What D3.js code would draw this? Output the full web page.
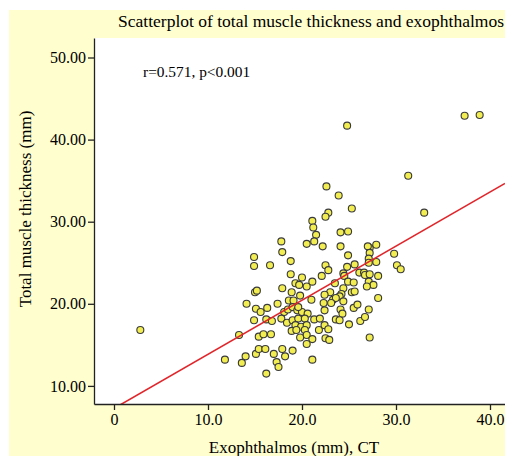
<!DOCTYPE html>
<html>
<head>
<meta charset="utf-8">
<script src="https://cdn.jsdelivr.net/npm/d3@7"></script>
<style>
  html, body { margin: 0; padding: 0; background: #fff; }
  svg { display: block; }
  text { font-family: "Liberation Serif", "Times New Roman", serif; fill: #000; }
</style>
</head>
<body>
<svg id="chart"></svg>
<script>
// exophthalmos (mm) and total muscle thickness (mm)
let exophthalmos = [
    17.8, 20.5, 31.3, 22.6, 23.9, 25.3, 22.8, 22.5, 21.1, 21.2, 21.5, 21.3, 22.2, 24.1, 24.9, 24.1,
    27.2, 27.9, 27.0, 24.8, 37.3, 38.9, 33.0, 2.8,
    14.9, 17.9, 14.9, 16.6, 18.8, 18.8, 20.0, 19.3, 19.7, 17.9, 18.9, 15.0, 15.2, 19.8, 20.5, 18.6,
    19.1, 14.1, 17.4, 15.1, 15.6, 16.3,
    18.1, 18.5, 19.0, 19.5, 20.0, 20.6, 19.6, 17.8, 18.4, 19.0, 19.6, 20.3, 19.3, 19.9, 20.5,
    14.9, 16.2, 16.8,
    13.3, 15.4, 15.9, 16.7, 18.9, 19.4, 20.3, 20.5, 19.8, 21.8, 22.5, 22.9, 21.1, 20.5, 27.2,
    11.8, 13.6, 14.0, 15.1, 15.4, 16.1, 17.0, 17.9, 18.2, 19.0, 17.3, 17.5, 21.1, 16.2,
    24.9, 27.2, 27.1, 29.8, 30.1, 30.5, 22.5, 22.8, 24.8, 25.6, 27.1, 27.9, 22.1, 24.4, 24.5, 26.1,
    26.6, 26.7, 27.2, 28.1, 21.1, 23.5, 24.9, 25.5, 27.1, 27.6, 26.9, 24.4, 24.2, 24.0, 25.3, 25.6,
    23.0, 22.4, 21.0, 23.3, 23.6, 24.4, 28.1, 22.3, 23.1, 22.4, 24.1, 24.3, 25.5, 25.9, 27.1, 21.3,
    21.9, 22.4, 23.6, 24.0, 25.0, 26.2, 26.7, 22.8
]
let muscleThickness = [
    27.6, 27.3, 35.6, 34.3, 33.2, 31.6, 31.1, 30.6, 30.1, 29.3, 28.4, 27.6, 27.0, 28.7, 28.8, 27.0,
    26.8, 27.2, 27.0, 41.7, 42.9, 43.0, 31.1, 16.8,
    25.7, 26.3, 24.6, 24.7, 25.2, 23.6, 23.2, 22.5, 22.3, 21.9, 21.4, 21.4, 21.6, 21.0, 22.1, 20.4,
    20.4, 20.0, 20.0, 19.4, 19.0, 19.5,
    19.0, 19.3, 19.6, 19.2, 19.0, 18.8, 19.6, 18.2, 17.7, 18.0, 18.2, 18.2, 17.4, 17.2, 17.4,
    18.0, 18.1, 17.9,
    16.2, 16.0, 16.3, 16.3, 16.7, 16.8, 16.8, 16.2, 15.9, 16.8, 15.8, 15.6, 15.7, 15.1, 15.9,
    13.2, 12.8, 13.6, 13.9, 14.5, 14.5, 13.9, 14.5, 13.6, 14.3, 12.9, 12.3, 13.2, 11.5,
    25.9, 26.2, 25.5, 26.1, 24.7, 24.2, 24.7, 24.1, 24.5, 24.8, 25.0, 25.1, 23.4, 23.7, 23.4, 23.8,
    23.8, 23.5, 23.6, 23.4, 22.7, 22.5, 22.7, 22.6, 22.7, 22.3, 22.1, 21.9, 21.2, 20.9, 21.4, 21.5,
    21.4, 21.1, 20.5, 20.5, 20.7, 20.3, 20.7, 20.1, 20.1, 19.2, 19.3, 18.8, 19.5, 19.9, 19.3, 18.1,
    18.2, 17.4, 18.1, 18.0, 17.5, 17.9, 18.4, 16.9
]

let xTicks = [0, 10, 20, 30, 40]
let xTickLabels = ['0', '10.0', '20.0', '30.0', '40.0']
let yTicks = [10, 20, 30, 40, 50]
let yTickLabels = ['10.00', '20.00', '30.00', '40.00', '50.00']

// fit line y = a + b * x
let fitIntercept = 7.26
let fitSlope = 0.659

let titleText = 'Scatterplot of total muscle thickness and exophthalmos'
let xTitle = 'Exophthalmos (mm), CT'
let yTitle = 'Total muscle thickness (mm)'
let statsText = 'r=0.571, p<0.001'

let W = 505, H = 456
let plot = { left: 94, top: 38, right: 505, bottom: 404 }

let svg = d3.select('#chart').attr('width', W).attr('height', H)

// cream chart frame
svg.append('rect')
    .attr('x', 9).attr('y', 10)
    .attr('width', W - 9).attr('height', H - 10)
    .attr('fill', '#FFFECE')

svg.append('rect')
    .attr('x', plot.left).attr('y', plot.top)
    .attr('width', plot.right - plot.left).attr('height', plot.bottom - plot.top)
    .attr('fill', '#fff')

let x = d3.scaleLinear()
    .domain([(plot.left - 114) / 9.4, (plot.right - 114) / 9.4])
    .range([plot.left, plot.right])
let y = d3.scaleLinear()
    .domain([50 - (plot.bottom - 57.5) / 8.21, 50 + (57.5 - plot.top) / 8.21])
    .range([plot.bottom, plot.top])

svg.append('clipPath').attr('id', 'plotClip')
    .append('rect')
    .attr('x', plot.left).attr('y', plot.top)
    .attr('width', plot.right - plot.left).attr('height', plot.bottom - plot.top)

let data = exophthalmos.map((v, i) => ({ x: v, y: muscleThickness[i] }))

let g = svg.append('g').attr('clip-path', 'url(#plotClip)')

g.selectAll('circle.pt')
    .data(data)
    .enter().append('circle')
    .attr('class', 'pt')
    .attr('cx', d => x(d.x))
    .attr('cy', d => y(d.y))
    .attr('r', 3.5)
    .attr('fill', '#F2EE52')
    .attr('stroke', '#3a3a3a')
    .attr('stroke-width', 1.1)

let xd = x.domain()
g.append('line')
    .attr('x1', x(xd[0])).attr('y1', y(fitIntercept + fitSlope * xd[0]))
    .attr('x2', x(xd[1])).attr('y2', y(fitIntercept + fitSlope * xd[1]))
    .attr('stroke', '#E0262B')
    .attr('stroke-width', 1.6)

// axes
let xAxis = d3.axisBottom(x)
    .tickValues(xTicks)
    .tickFormat((d, i) => xTickLabels[i])
    .tickSize(6)
    .tickSizeOuter(0)
let yAxis = d3.axisLeft(y)
    .tickValues(yTicks)
    .tickFormat((d, i) => yTickLabels[i])
    .tickSize(6)
    .tickSizeOuter(0)

let gx = svg.append('g')
    .attr('transform', 'translate(0,' + plot.bottom + ')')
    .call(xAxis)
let gy = svg.append('g')
    .attr('transform', 'translate(' + plot.left + ',0)')
    .call(yAxis)

;[gx, gy].forEach(ax => {
    ax.attr('font-family', null).attr('font-size', null)
    ax.select('.domain').attr('stroke', '#222').attr('stroke-width', 1.3)
    ax.selectAll('.tick line').attr('stroke', '#222').attr('stroke-width', 1.3)
    ax.selectAll('.tick text').style('font-size', '16px')
})
gx.selectAll('.tick text').attr('dy', '0.75em')
gy.selectAll('.tick text').attr('x', -8)

svg.append('text')
    .attr('x', 311).attr('y', 27)
    .attr('text-anchor', 'middle')
    .style('font-size', '17.5px')
    .text(titleText)

svg.append('text')
    .attr('x', 143).attr('y', 77)
    .style('font-size', '15.4px')
    .text(statsText)

svg.append('text')
    .attr('x', 294).attr('y', 453)
    .attr('text-anchor', 'middle')
    .style('font-size', '17px')
    .text(xTitle)

svg.append('text')
    .attr('transform', 'translate(31,209) rotate(-90)')
    .attr('text-anchor', 'middle')
    .style('font-size', '17px')
    .text(yTitle)
</script>
</body>
</html>
